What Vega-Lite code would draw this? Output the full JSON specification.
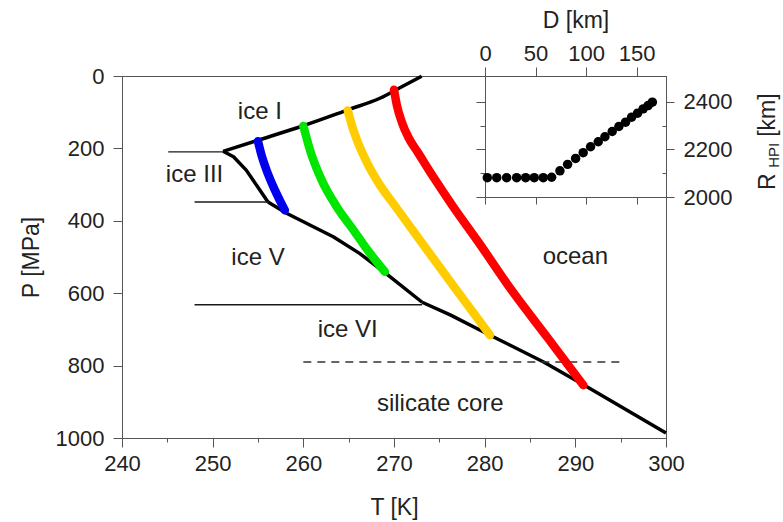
{
  "$schema": "https://vega.github.io/schema/vega-lite/v6.json",
  "autosize": {"type": "none"},
  "width": 544,
  "height": 362,
  "padding": {"left": 122, "top": 76, "right": 117, "bottom": 84},
  "config": {
    "font": "Liberation Sans",
    "view": {"stroke": "#555555", "strokeWidth": 1},
    "axis": {
      "grid": false,
      "domainColor": "#555555",
      "domainWidth": 1,
      "tickColor": "#555555",
      "tickWidth": 1,
      "labelColor": "#222222",
      "titleColor": "#222222",
      "labelFont": "Liberation Sans",
      "titleFont": "Liberation Sans",
      "labelFontSize": 22,
      "titleFontSize": 23,
      "titleFontWeight": "normal",
      "labelFlush": false,
      "labelOverlap": false,
      "labelBound": false,
      "format": "d"
    },
    "text": {"font": "Liberation Sans", "color": "#222222"}
  },
  "datasets": {
    "meltingI": [
      {"T": 251.15, "P": 208},
      {"T": 254.98, "P": 177.5},
      {"T": 259.98, "P": 137.5},
      {"T": 264.94, "P": 93.3},
      {"T": 268.44, "P": 61.5},
      {"T": 270.65, "P": 32.6},
      {"T": 273.05, "P": 0.8}
    ],
    "boundaries": [
      {"seg": "ice III", "T": 251.15, "P": 208},
      {"seg": "ice III", "T": 252.3, "P": 223},
      {"seg": "ice III", "T": 253.7, "P": 260},
      {"seg": "ice III", "T": 255.2, "P": 315},
      {"seg": "ice III", "T": 256.1, "P": 348},
      {"seg": "ice V", "T": 256.1, "P": 348},
      {"seg": "ice V", "T": 258.2, "P": 380},
      {"seg": "ice V", "T": 263.3, "P": 444},
      {"seg": "ice V", "T": 266.2, "P": 490},
      {"seg": "ice V", "T": 269.1, "P": 545},
      {"seg": "ice V", "T": 273.1, "P": 625},
      {"seg": "ice VI", "T": 273.1, "P": 625},
      {"seg": "ice VI", "T": 276.2, "P": 660},
      {"seg": "ice VI", "T": 280.6, "P": 716},
      {"seg": "ice VI", "T": 286.5, "P": 790},
      {"seg": "ice VI", "T": 290.9, "P": 853},
      {"seg": "ice VI", "T": 300.0, "P": 986}
    ],
    "levels": [
      {"T1": 245.1, "T2": 251.15, "P": 209.6},
      {"T1": 248.0, "T2": 256.1, "P": 348},
      {"T1": 248.0, "T2": 273.1, "P": 632}
    ],
    "core": [
      {"T1": 260.0, "T2": 295.0, "P": 790}
    ],
    "profiles": [
      {"run": "blue", "T": 255.0, "P": 180},
      {"run": "blue", "T": 255.35, "P": 215},
      {"run": "blue", "T": 255.94, "P": 260},
      {"run": "blue", "T": 256.86, "P": 315},
      {"run": "blue", "T": 257.96, "P": 371},
      {"run": "green", "T": 260.0, "P": 138},
      {"run": "green", "T": 260.74, "P": 205},
      {"run": "green", "T": 262.03, "P": 288},
      {"run": "green", "T": 263.68, "P": 361},
      {"run": "green", "T": 265.51, "P": 425},
      {"run": "green", "T": 267.36, "P": 490},
      {"run": "green", "T": 269.0, "P": 541},
      {"run": "yellow", "T": 264.9, "P": 95},
      {"run": "yellow", "T": 265.35, "P": 136},
      {"run": "yellow", "T": 266.01, "P": 183},
      {"run": "yellow", "T": 266.9, "P": 233},
      {"run": "yellow", "T": 268.11, "P": 288},
      {"run": "yellow", "T": 270.29, "P": 365},
      {"run": "yellow", "T": 273.19, "P": 465},
      {"run": "yellow", "T": 276.83, "P": 589},
      {"run": "yellow", "T": 280.59, "P": 716},
      {"run": "red", "T": 270.0, "P": 38},
      {"run": "red", "T": 270.32, "P": 81},
      {"run": "red", "T": 270.87, "P": 128},
      {"run": "red", "T": 271.64, "P": 172},
      {"run": "red", "T": 272.63, "P": 211},
      {"run": "red", "T": 274.29, "P": 277},
      {"run": "red", "T": 276.5, "P": 360},
      {"run": "red", "T": 279.15, "P": 453},
      {"run": "red", "T": 283.12, "P": 597},
      {"run": "red", "T": 286.88, "P": 721},
      {"run": "red", "T": 290.88, "P": 854}
    ],
    "regions": [
      {"label": "ice I", "T": 255.2, "P": 100},
      {"label": "ice III", "T": 248.0, "P": 274},
      {"label": "ice V", "T": 255.0, "P": 503},
      {"label": "ocean", "T": 290.0, "P": 500},
      {"label": "ice VI", "T": 264.9, "P": 703},
      {"label": "silicate core", "T": 275.1, "P": 906}
    ],
    "interface": [
      {"D": 2.3, "R": 2081},
      {"D": 11.6, "R": 2081},
      {"D": 21.4, "R": 2081},
      {"D": 31.3, "R": 2081},
      {"D": 40.2, "R": 2081},
      {"D": 48.7, "R": 2081},
      {"D": 57.6, "R": 2081},
      {"D": 65.9, "R": 2083},
      {"D": 74.1, "R": 2110},
      {"D": 81.7, "R": 2137},
      {"D": 89.6, "R": 2162},
      {"D": 97.1, "R": 2186},
      {"D": 104.4, "R": 2211},
      {"D": 112.0, "R": 2232},
      {"D": 118.6, "R": 2253},
      {"D": 125.8, "R": 2275},
      {"D": 132.4, "R": 2296},
      {"D": 139.0, "R": 2314},
      {"D": 145.0, "R": 2335},
      {"D": 150.9, "R": 2352},
      {"D": 156.4, "R": 2370},
      {"D": 161.3, "R": 2384},
      {"D": 165.5, "R": 2398}
    ],
    "rTitle": [
      {"txt": "R", "D": 279.9, "R": 2064},
      {"txt": "[km]", "D": 279.9, "R": 2344}
    ],
    "rSub": [
      {"txt": "HPI", "D": 286.0, "R": 2175}
    ]
  },
  "layer": [
    {
      "layer": [
        {
          "data": {"name": "meltingI"},
          "mark": {"type": "line", "color": "#000000", "strokeWidth": 3.5, "interpolate": "monotone"},
          "encoding": {
            "x": {
              "field": "T", "type": "quantitative",
              "scale": {"domain": [240, 300], "nice": false, "zero": false},
              "axis": {
                "orient": "bottom",
                "title": "T [K]",
                "values": [240, 245, 250, 255, 260, 265, 270, 275, 280, 285, 290, 295, 300],
                "tickSize": {"condition": {"test": "datum.value % 10 === 0", "value": 9}, "value": 4},
                "labelExpr": "datum.value % 10 === 0 ? datum.label : ''",
                "labelPadding": 6,
                "titlePadding": 22
              }
            },
            "y": {
              "field": "P", "type": "quantitative",
              "scale": {"domain": [0, 1000], "reverse": true, "nice": false, "zero": false},
              "axis": {
                "orient": "left",
                "title": "P [MPa]",
                "values": [0, 100, 200, 300, 400, 500, 600, 700, 800, 900, 1000],
                "tickSize": {"condition": {"test": "datum.value % 200 === 0", "value": 9}, "value": 4},
                "labelExpr": "datum.value % 200 === 0 ? datum.label : ''",
                "labelPadding": 9,
                "titlePadding": 12
              }
            }
          }
        },
        {
          "data": {"name": "boundaries"},
          "mark": {"type": "line", "color": "#000000", "strokeWidth": 3.5, "strokeJoin": "round"},
          "encoding": {
            "x": {"field": "T", "type": "quantitative"},
            "y": {"field": "P", "type": "quantitative"},
            "detail": {"field": "seg"}
          }
        },
        {
          "data": {"name": "levels"},
          "mark": {"type": "rule", "color": "#1a1a1a", "strokeWidth": 1.4},
          "encoding": {
            "x": {"field": "T1", "type": "quantitative"},
            "x2": {"field": "T2"},
            "y": {"field": "P", "type": "quantitative"}
          }
        },
        {
          "data": {"name": "core"},
          "mark": {"type": "rule", "color": "#333333", "strokeWidth": 1.4, "strokeDash": [8, 6]},
          "encoding": {
            "x": {"field": "T1", "type": "quantitative"},
            "x2": {"field": "T2"},
            "y": {"field": "P", "type": "quantitative"}
          }
        },
        {
          "data": {"name": "profiles"},
          "mark": {"type": "line", "strokeWidth": 8.5, "strokeCap": "round", "strokeJoin": "round", "interpolate": "monotone"},
          "encoding": {
            "x": {"field": "T", "type": "quantitative"},
            "y": {"field": "P", "type": "quantitative"},
            "color": {
              "field": "run", "type": "nominal", "legend": null,
              "scale": {"domain": ["blue", "green", "yellow", "red"], "range": ["#0000ee", "#00e600", "#ffcc00", "#ff0000"]}
            }
          }
        },
        {
          "data": {"name": "regions"},
          "mark": {"type": "text", "fontSize": 24, "align": "center", "baseline": "middle"},
          "encoding": {
            "x": {"field": "T", "type": "quantitative"},
            "y": {"field": "P", "type": "quantitative"},
            "text": {"field": "label"}
          }
        }
      ]
    },
    {
      "layer": [
        {
          "data": {"name": "interface"},
          "mark": {"type": "circle", "size": 90, "color": "#000000", "opacity": 1},
          "encoding": {
            "x": {
              "field": "D", "type": "quantitative",
              "scale": {"domain": [0, 179], "range": [363, 544], "nice": false, "zero": false},
              "axis": {
                "orient": "top",
                "title": "D [km]",
                "values": [0, 50, 100, 150],
                "tickSize": 9,
                "labelPadding": 2,
                "titlePadding": 10
              }
            },
            "y": {
              "field": "R", "type": "quantitative",
              "scale": {"domain": [2000, 2508], "range": [121, 0], "nice": false, "zero": false},
              "axis": {
                "orient": "right",
                "title": null,
                "values": [2000, 2100, 2200, 2300, 2400],
                "tickSize": {"condition": {"test": "datum.value % 200 === 0", "value": 8}, "value": -4},
                "labelExpr": "datum.value % 200 === 0 ? datum.label : ''",
                "labelPadding": 9
              }
            }
          }
        },
        {
          "data": {"name": "rTitle"},
          "mark": {"type": "text", "fontSize": 23, "angle": 270, "align": "center", "baseline": "middle"},
          "encoding": {
            "x": {
              "field": "D", "type": "quantitative",
              "axis": {"orient": "bottom", "offset": -241, "title": null, "labels": false, "values": [0, 50, 100, 150], "tickSize": 7}
            },
            "y": {
              "field": "R", "type": "quantitative",
              "axis": {
                "orient": "left", "offset": -363, "title": null, "labels": false,
                "values": [2000, 2100, 2200, 2300, 2400],
                "tickSize": {"condition": {"test": "datum.value % 200 === 0", "value": 9}, "value": 5}
              }
            },
            "text": {"field": "txt"}
          }
        },
        {
          "data": {"name": "rSub"},
          "mark": {"type": "text", "fontSize": 15, "angle": 270, "align": "center", "baseline": "middle"},
          "encoding": {
            "x": {"field": "D", "type": "quantitative", "axis": null},
            "y": {"field": "R", "type": "quantitative", "axis": null},
            "text": {"field": "txt"}
          }
        }
      ],
      "resolve": {"axis": {"x": "independent", "y": "independent"}}
    }
  ],
  "resolve": {
    "scale": {"x": "independent", "y": "independent"},
    "axis": {"x": "independent", "y": "independent"}
  }
}
